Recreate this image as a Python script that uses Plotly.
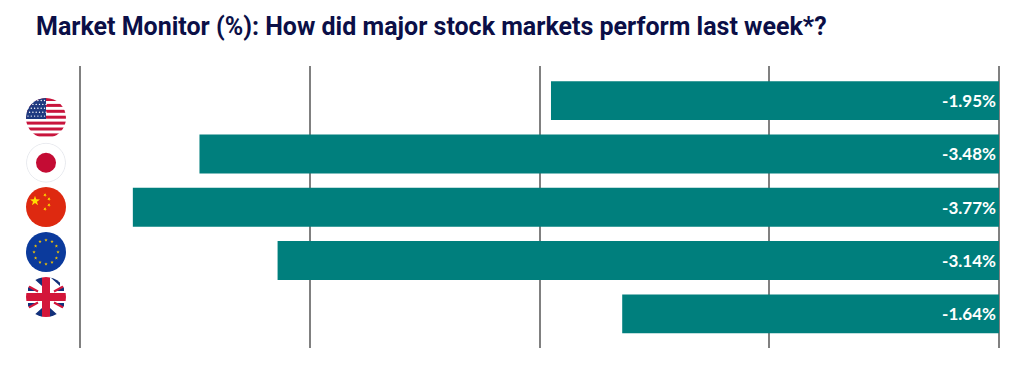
import base64
import math
import plotly.graph_objects as go

TITLE = "Market Monitor (%): How did major stock markets perform last week*?"
markets = ["United States", "Japan", "China", "Eurozone", "United Kingdom"]
returns = [-1.95, -3.48, -3.77, -3.14, -1.64]
x_ticks = [-4, -3, -2, -1, 0]

W, H = 1024, 383
NAVY = "#0b0f47"
TEAL = "#007f7d"
GRID = "#808080"


def star(cx, cy, r, fill, rot=-90):
    pts = []
    for i in range(10):
        rr = r if i % 2 == 0 else r * 0.4
        a = math.radians(rot + i * 36)
        pts.append(f"{cx + rr * math.cos(a):.2f},{cy + rr * math.sin(a):.2f}")
    return f'<polygon points="{" ".join(pts)}" fill="{fill}"/>'


def flag_us():
    s = '<rect width="40" height="40" fill="#fff"/>'
    for i in range(7):
        s += f'<rect y="{i * 5.9:.1f}" width="40" height="3" fill="#c8143c"/>'
    s += '<rect width="20" height="21" fill="#1f3a80"/>'
    for r in range(5):
        for c in range(6):
            s += f'<circle cx="{2 + c * 3.3 + (r % 2) * 1.6:.1f}" cy="{2.5 + r * 3.9:.1f}" r="0.7" fill="#fff"/>'
    return s


def flag_jp():
    return ('<circle cx="20" cy="20" r="19.5" fill="#fff" stroke="#dfe2e8" stroke-width="0.8"/>'
            '<circle cx="20" cy="20" r="10" fill="#c40c34"/>')


def flag_cn():
    s = '<rect width="40" height="40" fill="#de2910"/>'
    s += star(9, 14, 5.2, "#ffde00")
    for cx, cy in [(19, 8), (23, 12), (23, 18), (19, 22)]:
        s += star(cx, cy, 1.9, "#ffde00", -60)
    return s


def flag_eu():
    s = '<rect width="40" height="40" fill="#0b3a9c"/>'
    for i in range(12):
        a = math.radians(i * 30)
        s += star(20 + 12 * math.sin(a), 20 - 12 * math.cos(a), 1.8, "#f5c400")
    return s


def flag_uk():
    return ('<rect width="40" height="40" fill="#fff"/>'
            '<path d="M6 0H16V9ZM24 0H34V9ZM2 9L11 14H2ZM38 9L29 14H38ZM2 26H11L2 31ZM38 26H29L38 31ZM16 40H6L16 31ZM24 40H34L24 31Z" fill="#12307a"/>'
            '<path d="M2 9L12 14.5M38 9L28 14.5M2 31L12 25.5M38 31L28 25.5" stroke="#d3163a" stroke-width="2"/>'
            '<rect x="16" width="8" height="40" fill="#d3163a"/>'
            '<rect y="16" width="40" height="8" fill="#d3163a"/>')


def flag_uri(inner):
    svg = ('<svg xmlns="http://www.w3.org/2000/svg" width="160" height="160" viewBox="0 0 40 40">'
           '<defs><clipPath id="c"><circle cx="20" cy="20" r="20"/></clipPath></defs>'
           f'<g clip-path="url(#c)">{inner}</g></svg>')
    return "data:image/svg+xml;base64," + base64.b64encode(svg.encode()).decode()


flags = [flag_us(), flag_jp(), flag_cn(), flag_eu(), flag_uk()]
flag_centres = [118, 162.7, 207, 252, 297]

fig = go.Figure(
    go.Bar(
        x=returns,
        y=markets,
        orientation="h",
        marker=dict(color=TEAL, line=dict(width=0)),
        text=[f"{v:.2f}%" for v in returns],
        textposition="inside",
        insidetextanchor="start",
        textangle=0,
        textfont=dict(family="Lato", size=17, color="#ffffff", weight=700),
        cliponaxis=False,
        hoverinfo="skip",
    )
)

fig.update_layout(
    width=W,
    height=H,
    autosize=False,
    margin=dict(l=0, r=0, t=0, b=0),
    paper_bgcolor="#ffffff",
    plot_bgcolor="#ffffff",
    showlegend=False,
    bargap=0.27,
    title=dict(
        text=f"<b>{TITLE}</b>",
        x=36 / W,
        xanchor="left",
        y=1 - 26 / H,
        yanchor="middle",
        font=dict(family="Roboto", size=25, color=NAVY),
    ),
    xaxis=dict(
        domain=[78 / W, 1001 / W],
        range=[-4.0087, 0.0087],
        tickvals=x_ticks,
        showticklabels=False,
        showgrid=True,
        gridcolor=GRID,
        gridwidth=2,
        zeroline=False,
        showline=False,
        ticks="",
    ),
    yaxis=dict(
        domain=[1 - 348 / H, 1 - 66 / H],
        categoryorder="array",
        categoryarray=markets,
        range=[4.64, -0.65],
        showticklabels=False,
        showgrid=False,
        zeroline=False,
        ticks="",
    ),
    images=[
        dict(
            source=flag_uri(inner),
            xref="paper",
            yref="paper",
            x=46 / W,
            y=1 - cy / H,
            sizex=40 / W,
            sizey=40 / H,
            xanchor="center",
            yanchor="middle",
            sizing="contain",
            layer="above",
        )
        for inner, cy in zip(flags, flag_centres)
    ],
)

fig.write_html(
    "out.html",
    config=dict(displayModeBar=False),
    post_script="document.body.style.margin='0';",
)
